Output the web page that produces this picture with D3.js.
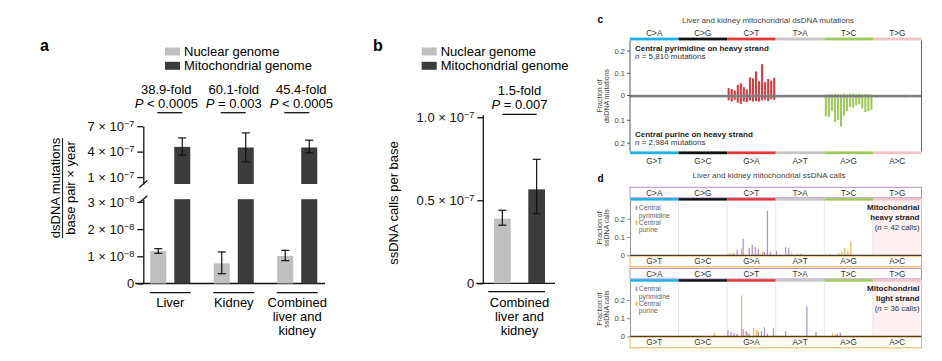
<!DOCTYPE html>
<html lang="en">
<head>
<meta charset="UTF-8">
<title>Mitochondrial vs nuclear mutations</title>
<script src="https://d3js.org/d3.v7.min.js"></script>
<style>
  body { margin: 0; background: #fff; }
  svg { font-family: 'Liberation Sans', Arial, Helvetica, sans-serif; }
</style>
</head>
<body>
<svg width="942" height="361" id="fig"></svg>
<script>
  // ---------- panel a / b data
  const groups = ['Liver', 'Kidney', 'Combined'];
  const groupLabels = [['Liver'], ['Kidney'], ['Combined', 'liver and', 'kidney']];
  const genomes = ['Nuclear genome', 'Mitochondrial genome'];
  const dsNuclear = [1.19e-8, 0.74e-8, 1.01e-8];
  const dsNuclearErr = [[1.11e-8, 1.28e-8], [0.36e-8, 1.16e-8], [0.84e-8, 1.22e-8]];
  const dsMito = [4.56e-7, 4.49e-7, 4.49e-7];
  const dsMitoErr = [[3.59e-7, 5.62e-7], [2.8e-7, 6.21e-7], [3.86e-7, 5.35e-7]];
  const dsFold = ['38.9-fold', '60.1-fold', '45.4-fold'];
  const dsP = [['<', '0.0005'], ['=', '0.003'], ['<', '0.0005']];
  const dsTicksLow = [0, 1e-8, 2e-8, 3e-8];
  const dsTicksHigh = [1e-7, 4e-7, 7e-7];

  const ssValues = [0.39e-7, 0.566e-7];
  const ssErr = [[0.35e-7, 0.44e-7], [0.42e-7, 0.747e-7]];
  const ssFold = '1.5-fold';
  const ssP = ['=', '0.007'];
  const ssTicks = [0, 0.5e-7, 1e-7];

  // ---------- panel c / d data (96 trinucleotide contexts)
  const types = ['C>A', 'C>G', 'C>T', 'T>A', 'T>C', 'T>G'];
  const typesPurine = ['G>T', 'G>C', 'G>A', 'A>T', 'A>G', 'A>C'];
  const flanks = ['A_A', 'A_C', 'A_G', 'A_T', 'C_A', 'C_C', 'C_G', 'C_T',
                  'G_A', 'G_C', 'G_G', 'G_T', 'T_A', 'T_C', 'T_G', 'T_T'];
  const typeColors = ['#1fb0e6', '#111111', '#e0383d', '#c6c6c6', '#9fca5a', '#efc4c4'];

  // fraction of dsDNA mutations, central pyrimidine on heavy strand
  const dsPyr = [
    0, 0, 0, 0, 0, 0, 0, 0, 0, 0, 0, 0, 0, 0, 0, 0,
    0, 0, 0, 0, 0, 0, 0, 0, 0, 0, 0, 0, 0, 0, 0, 0,
    0.031, 0.027, 0.02, 0.046, 0.053, 0.035, 0.025, 0.08, 0.075, 0.106, 0.062, 0.139, 0.058, 0.072, 0.065, 0.078,
    0, 0, 0, 0, 0, 0, 0, 0, 0, 0, 0, 0, 0, 0, 0, 0,
    0.002, 0.004, 0.003, 0.005, 0.004, 0.003, 0.006, 0.004, 0.005, 0.007, 0.004, 0.006, 0.003, 0.005, 0.004, 0.003,
    0, 0, 0, 0, 0, 0, 0, 0, 0, 0, 0.003, 0, 0, 0, 0, 0
  ];
  // central purine on heavy strand
  const dsPur = [
    0, 0, 0, 0, 0, 0, 0, 0, 0, 0, 0, 0, 0, 0, 0, 0,
    0, 0, 0, 0, 0, 0, 0, 0, 0, 0, 0, 0, 0, 0, 0, 0,
    0.015, 0.02, 0.012, 0.025, 0.03, 0.02, 0.022, 0.015, 0.02, 0.018, 0.02, 0.015, 0.012, 0.018, 0.01, 0.012,
    0, 0, 0, 0, 0, 0, 0, 0, 0, 0, 0, 0, 0, 0, 0, 0,
    0.085, 0.088, 0.062, 0.11, 0.1, 0.129, 0.081, 0.062, 0.044, 0.047, 0.037, 0.032, 0.051, 0.066, 0.062, 0.056,
    0, 0, 0, 0, 0, 0, 0, 0, 0, 0, 0.003, 0, 0, 0, 0, 0
  ];

  // ssDNA calls: [context index, fraction]
  const heavyPyr = [[34, 0.01], [35, 0.03], [37, 0.09], [39, 0.04], [40, 0.058], [41, 0.045], [42, 0.035],
                    [44, 0.018], [45, 0.245], [46, 0.02], [48, 0.025], [51, 0.045], [52, 0.04], [53, 0.01],
                    [55, 0.008], [56, 0.008], [76, 0.004]];
  const heavyPur = [[32, 0.01], [33, 0.012], [36, 0.037], [43, 0.02], [65, 0.008], [68, 0.012], [69, 0.02],
                    [70, 0.04], [71, 0.02], [72, 0.075]];
  const lightPyr = [[32, 0.035], [33, 0.025], [34, 0.02], [35, 0.015], [37, 0.04], [38, 0.03], [39, 0.015],
                    [42, 0.025], [43, 0.03], [44, 0.05], [45, 0.015], [47, 0.045], [51, 0.03], [58, 0.165],
                    [61, 0.025], [68, 0.015], [69, 0.02]];
  const lightPur = [[27, 0.02], [36, 0.225], [38, 0.02], [40, 0.045], [41, 0.035], [66, 0.015], [67, 0.01]];

  const contexts = types.flatMap(t => flanks.map(f => t + ' ' + f));

  const svg = d3.select('#fig');
  const nucColor = '#bfbfbf';
  const mitoColor = '#3b3b3b';

  // tick label with superscript exponent
  function sciTicks(g, fmt) {
    g.selectAll('.tick text').each(function (d) {
      const t = d3.select(this).text(null);
      const r = fmt(d);
      if (!r) { t.text('0'); return; }
      t.append('tspan').text(r[0] + ' \u00d7 10');
      t.append('tspan').attr('dy', '-0.45em').attr('font-size', '0.7em').text('\u2212' + r[1]);
    });
  }

  function styleAxis(g) {
    g.selectAll('path, line').attr('stroke', '#111').attr('stroke-width', 1.3);
    g.selectAll('text').attr('font-size', 13).attr('fill', '#111').attr('font-family', null);
  }

  function legend(x, y) {
    genomes.forEach((name, i) => {
      svg.append('rect').attr('x', x).attr('y', y + i * 14.3)
        .attr('width', 15).attr('height', 8).attr('fill', i ? mitoColor : nucColor);
      svg.append('text').attr('x', x + 19).attr('y', y + 8.6 + i * 14.3)
        .attr('font-size', 13).text(name);
    });
  }

  function pText(x, y, p) {
    const t = svg.append('text').attr('x', x).attr('y', y)
      .attr('text-anchor', 'middle').attr('font-size', 13);
    t.append('tspan').attr('font-style', 'italic').text('P');
    t.append('tspan').text(' ' + p[0] + ' ' + p[1]);
  }

  function errBar(x, y0, y1) {
    const e = svg.append('g').attr('stroke', '#111').attr('stroke-width', 1.2);
    e.append('line').attr('x1', x).attr('x2', x).attr('y1', y0).attr('y2', y1);
    e.append('line').attr('x1', x - 4).attr('x2', x + 4).attr('y1', y0).attr('y2', y0);
    e.append('line').attr('x1', x - 4).attr('x2', x + 4).attr('y1', y1).attr('y2', y1);
  }

  function panelLetter(x, y, s, size) {
    svg.append('text').attr('x', x).attr('y', y).attr('font-size', size)
      .attr('font-weight', 'bold').text(s);
  }

  // ====================== panel a
  panelLetter(40, 51, 'a', 16);
  legend(165, 47.5);

  const aAxisX = 143.3;
  const aX = d3.scaleBand().domain(groups).range([138.5, 329]);
  const aInner = d3.scaleBand().domain(genomes).range([0, 40]).paddingInner(1 / 3);
  const aOff = (aX.bandwidth() - 40) / 2;
  const yLow = d3.scaleLinear().domain([0, 3.1e-8]).range([283.5, 199.2]).clamp(true);
  const yHigh = d3.scaleLinear().domain([0.18e-7, 7e-7]).range([184, 126.2]);
  const breakLow = yLow.range()[1];
  const breakHigh = yHigh.range()[0];

  const gLow = svg.append('g').attr('transform', `translate(${aAxisX},0)`)
    .call(d3.axisLeft(yLow).tickValues(dsTicksLow).tickSize(6).tickSizeOuter(0).tickPadding(3));
  sciTicks(gLow, v => v === 0 ? null : [String(Math.round(v / 1e-8)), 8]);
  styleAxis(gLow);
  const gHigh = svg.append('g').attr('transform', `translate(${aAxisX},0)`)
    .call(d3.axisLeft(yHigh).tickValues(dsTicksHigh).tickSize(6).tickSizeOuter(0).tickPadding(3));
  sciTicks(gHigh, v => [String(Math.round(v / 1e-7)), 7]);
  styleAxis(gHigh);

  // axis break marks
  [breakHigh, breakLow].forEach(y => {
    svg.append('line').attr('x1', aAxisX - 4).attr('x2', aAxisX + 4)
      .attr('y1', y + 3.5).attr('y2', y - 3.5).attr('stroke', '#111').attr('stroke-width', 1.3);
  });

  // baseline
  svg.append('line').attr('x1', aAxisX - 8).attr('x2', 325)
    .attr('y1', yLow(0)).attr('y2', yLow(0)).attr('stroke', '#111').attr('stroke-width', 1.3);

  groups.forEach((g, i) => {
    const x0 = aX(g) + aOff;
    const c = aX(g) + aX.bandwidth() / 2;
    const bw = aInner.bandwidth();
    const xn = x0 + aInner(genomes[0]);
    const xm = x0 + aInner(genomes[1]);

    svg.append('rect').attr('x', xn).attr('width', bw)
      .attr('y', yLow(dsNuclear[i])).attr('height', yLow(0) - yLow(dsNuclear[i]))
      .attr('fill', nucColor);
    errBar(xn + bw / 2, yLow(dsNuclearErr[i][0]), yLow(dsNuclearErr[i][1]));

    // mitochondrial bar crosses the axis break
    svg.append('rect').attr('x', xm).attr('width', bw)
      .attr('y', yLow(dsMito[i])).attr('height', yLow(0) - yLow(dsMito[i]))
      .attr('fill', mitoColor);
    svg.append('rect').attr('x', xm).attr('width', bw)
      .attr('y', yHigh(dsMito[i])).attr('height', breakHigh - yHigh(dsMito[i]))
      .attr('fill', mitoColor);
    errBar(xm + bw / 2, yHigh(dsMitoErr[i][0]), yHigh(dsMitoErr[i][1]));

    // significance
    const tx = c + (i - 1) * 4;
    svg.append('text').attr('x', tx).attr('y', 94).attr('text-anchor', 'middle')
      .attr('font-size', 13).text(dsFold[i]);
    pText(tx, 108, dsP[i]);
    svg.append('line').attr('x1', xn + bw / 2 - 1).attr('x2', xm + bw / 2)
      .attr('y1', 112.7).attr('y2', 112.7).attr('stroke', '#111').attr('stroke-width', 1.3);

    // category
    svg.append('line').attr('x1', c - 20.5).attr('x2', c + 20.5)
      .attr('y1', 292.7).attr('y2', 292.7).attr('stroke', '#111').attr('stroke-width', 1.3);
    groupLabels[i].forEach((s, k) => {
      svg.append('text').attr('x', c).attr('y', 306.7 + k * 14.2)
        .attr('text-anchor', 'middle').attr('font-size', 13).text(s);
    });
  });

  // y label as a fraction
  const aLab = svg.append('g').attr('transform', 'translate(0,188) rotate(-90)')
    .attr('font-size', 13).attr('text-anchor', 'middle');
  aLab.append('text').attr('x', 0).attr('y', 59.6).text('dsDNA mutations');
  aLab.append('line').attr('x1', -50).attr('x2', 50).attr('y1', 62.6).attr('y2', 62.6)
    .attr('stroke', '#111').attr('stroke-width', 1);
  aLab.append('text').attr('x', 0).attr('y', 74.5).text('base pair \u00d7 year');

  // ====================== panel b
  panelLetter(373, 51, 'b', 16);
  legend(421.7, 47.5);

  const bAxisX = 483.3;
  const bInner = d3.scaleBand().domain(genomes).range([494, 545]).paddingInner(0.513);
  const yB = d3.scaleLinear().domain([0, 1e-7]).range([283.3, 117.3]);
  const gB = svg.append('g').attr('transform', `translate(${bAxisX},0)`)
    .call(d3.axisLeft(yB).tickValues(ssTicks).tickSize(6).tickSizeOuter(0).tickPadding(3));
  sciTicks(gB, v => v === 0 ? null : [(v / 1e-7).toFixed(1), 7]);
  styleAxis(gB);
  gB.select('.domain').attr('d', `M0,${yB(0)}V${yB(1e-7) - 2}`);
  svg.append('line').attr('x1', bAxisX - 7).attr('x2', 555)
    .attr('y1', yB(0)).attr('y2', yB(0)).attr('stroke', '#111').attr('stroke-width', 1.3);

  genomes.forEach((gname, i) => {
    const x = bInner(gname);
    const bw = bInner.bandwidth();
    svg.append('rect').attr('x', x).attr('width', bw)
      .attr('y', yB(ssValues[i])).attr('height', yB(0) - yB(ssValues[i]))
      .attr('fill', i ? mitoColor : nucColor);
    errBar(x + bw / 2, yB(ssErr[i][0]), yB(ssErr[i][1]));
  });
  const bC = (bInner.range()[0] + bInner.range()[1]) / 2;
  svg.append('text').attr('x', bC).attr('y', 95).attr('text-anchor', 'middle')
    .attr('font-size', 13).text(ssFold);
  pText(bC, 108.5, ssP);
  svg.append('line')
    .attr('x1', bInner(genomes[0]) + bInner.bandwidth() / 2)
    .attr('x2', bInner(genomes[1]) + bInner.bandwidth() / 2)
    .attr('y1', 114.3).attr('y2', 114.3).attr('stroke', '#111').attr('stroke-width', 1.3);
  svg.append('line').attr('x1', 488.3).attr('x2', 545)
    .attr('y1', 291.7).attr('y2', 291.7).attr('stroke', '#111').attr('stroke-width', 1.3);
  groupLabels[2].forEach((s, k) => {
    svg.append('text').attr('x', bC).attr('y', 306.7 + k * 14.2)
      .attr('text-anchor', 'middle').attr('font-size', 13).text(s);
  });
  svg.append('text').attr('transform', 'translate(398,203) rotate(-90)')
    .attr('text-anchor', 'middle').attr('font-size', 13).text('ssDNA calls per base');

  // ====================== panel c
  const cx0 = 630, cx1 = 921.5;
  const xType = d3.scaleBand().domain(types).range([cx0, cx1]);
  const xCtx = d3.scaleBand().domain(contexts).range([cx0, cx1]).paddingInner(0.32).paddingOuter(0.16);
  const yTop = d3.scaleLinear().domain([0, 0.25]).range([95, 39.5]);
  const yBot = d3.scaleLinear().domain([0, 0.25]).range([97, 154]);
  const small = 7.5;
  const typeSize = 8.2;

  panelLetter(597.5, 22.5, 'c', 10);
  svg.append('text').attr('x', 768).attr('y', 22.5).attr('text-anchor', 'middle')
    .attr('font-size', 8).attr('fill', '#444').text('Liver and kidney mitochondrial dsDNA mutations');

  types.forEach((t, i) => {
    const x = xType(t);
    const w = xType.bandwidth();
    svg.append('rect').attr('x', x).attr('y', 37.6).attr('width', w).attr('height', 2.8).attr('fill', typeColors[i]);
    svg.append('rect').attr('x', x).attr('y', 151.4).attr('width', w).attr('height', 2.8).attr('fill', typeColors[i]);
    svg.append('text').attr('x', x + w / 2).attr('y', 35.8).attr('text-anchor', 'middle')
      .attr('font-size', typeSize).attr('fill', '#333').text(t);
    svg.append('text').attr('x', x + w / 2).attr('y', 163.5).attr('text-anchor', 'middle')
      .attr('font-size', typeSize).attr('fill', '#333').text(typesPurine[i]);
  });

  contexts.forEach((ctx, i) => {
    const col = typeColors[Math.floor(i / 16)];
    if (dsPyr[i] > 0) {
      svg.append('rect').attr('x', xCtx(ctx)).attr('width', xCtx.bandwidth())
        .attr('y', yTop(dsPyr[i])).attr('height', yTop(0) - yTop(dsPyr[i])).attr('fill', col);
    }
    if (dsPur[i] > 0) {
      svg.append('rect').attr('x', xCtx(ctx)).attr('width', xCtx.bandwidth())
        .attr('y', yBot(0)).attr('height', yBot(dsPur[i]) - yBot(0)).attr('fill', col);
    }
  });

  // zero band and frame
  svg.append('rect').attr('x', cx0).attr('y', 94.8).attr('width', cx1 - cx0).attr('height', 2.6).attr('fill', '#7d7d7d');
  svg.append('line').attr('x1', cx1).attr('x2', cx1).attr('y1', 40.4).attr('y2', 151.4)
    .attr('stroke', '#555').attr('stroke-width', 0.9);

  const gcTop = svg.append('g').attr('transform', `translate(${cx0},0)`)
    .call(d3.axisLeft(yTop).tickValues([0, 0.1, 0.2]).tickSize(3).tickSizeOuter(0).tickPadding(2)
      .tickFormat(d => d === 0 ? '0' : d3.format('.1f')(d)));
  const gcBot = svg.append('g').attr('transform', `translate(${cx0},0)`)
    .call(d3.axisLeft(yBot).tickValues([0.1, 0.2]).tickSize(3).tickSizeOuter(0).tickPadding(2)
      .tickFormat(d3.format('.1f')));
  [gcTop, gcBot].forEach(g => {
    g.selectAll('path, line').attr('stroke', '#444').attr('stroke-width', 0.9);
    g.selectAll('text').attr('font-size', small).attr('fill', '#444').attr('font-family', null);
  });
  gcTop.select('.domain').attr('d', `M0,40.4V96`);
  gcBot.select('.domain').attr('d', `M0,96V151.4`);

  const cLab = svg.append('g').attr('transform', 'translate(0,96) rotate(-90)')
    .attr('font-size', 7).attr('fill', '#444').attr('text-anchor', 'middle');
  cLab.append('text').attr('y', 602).text('Fraction of');
  cLab.append('text').attr('y', 609).text('dsDNA mutations');

  svg.append('text').attr('x', 635).attr('y', 50.5).attr('font-size', 8)
    .attr('font-weight', 'bold').attr('fill', '#222').text('Central pyrimidine on heavy strand');
  const n1 = svg.append('text').attr('x', 635).attr('y', 58.8).attr('font-size', 8).attr('fill', '#333');
  n1.append('tspan').attr('font-style', 'italic').text('n');
  n1.append('tspan').text(' = 5,810 mutations');
  svg.append('text').attr('x', 635).attr('y', 136.5).attr('font-size', 8)
    .attr('font-weight', 'bold').attr('fill', '#222').text('Central purine on heavy strand');
  const n2 = svg.append('text').attr('x', 635).attr('y', 145.3).attr('font-size', 8).attr('fill', '#333');
  n2.append('tspan').attr('font-style', 'italic').text('n');
  n2.append('tspan').text(' = 2,984 mutations');

  // ====================== panel d
  const pyrColor = '#b58fcb';
  const purColor = '#f0b24a';
  const xSub = d3.scaleBand().domain(['pyr', 'pur']).range([0, xCtx.step()]).paddingInner(0.15).paddingOuter(0.12);

  panelLetter(597.5, 182, 'd', 10);
  svg.append('text').attr('x', 769).attr('y', 177.5).attr('text-anchor', 'middle')
    .attr('font-size', 8).attr('fill', '#444').text('Liver and kidney mitochondrial ssDNA calls');

  function ssPanel(top, pyr, pur, strandName, nCalls) {
    const plotTop = top + 13.3;
    const plotBot = top + 68;
    const y = d3.scaleLinear().domain([0, 0.3]).range([plotBot, plotTop]);

    // T>G region tint
    svg.append('rect').attr('x', xType('T>G')).attr('y', plotTop).attr('width', xType.bandwidth())
      .attr('height', plotBot - plotTop).attr('fill', '#fdf1f1');

    // separators
    types.slice(1).forEach(t => {
      svg.append('line').attr('x1', xType(t)).attr('x2', xType(t)).attr('y1', plotTop).attr('y2', plotBot)
        .attr('stroke', '#e2e2e2').attr('stroke-width', 0.8);
    });
    svg.append('line').attr('x1', cx1).attr('x2', cx1).attr('y1', plotTop).attr('y2', plotBot)
      .attr('stroke', '#bbb').attr('stroke-width', 0.8);

    // label boxes
    svg.append('rect').attr('x', cx0).attr('y', top).attr('width', cx1 - cx0).attr('height', 10.5)
      .attr('fill', 'none').attr('stroke', pyrColor).attr('stroke-width', 1);
    svg.append('rect').attr('x', cx0).attr('y', plotBot + 0.8).attr('width', cx1 - cx0).attr('height', 10.6)
      .attr('fill', 'none').attr('stroke', purColor).attr('stroke-width', 1);

    types.forEach((t, i) => {
      const x = xType(t);
      const w = xType.bandwidth();
      svg.append('rect').attr('x', x).attr('y', top + 10.8).attr('width', w).attr('height', 2.5).attr('fill', typeColors[i]);
      svg.append('text').attr('x', x + w / 2).attr('y', top + 8.6).attr('text-anchor', 'middle')
        .attr('font-size', typeSize).attr('fill', '#333').text(t);
      svg.append('text').attr('x', x + w / 2).attr('y', plotBot + 9).attr('text-anchor', 'middle')
        .attr('font-size', typeSize).attr('fill', '#333').text(typesPurine[i]);
    });

    [[pyr, 'pyr', pyrColor], [pur, 'pur', purColor]].forEach(([rows, key, col]) => {
      rows.forEach(([idx, v]) => {
        svg.append('rect').attr('x', xCtx(contexts[idx]) - xCtx.step() * 0.16 + xSub(key))
          .attr('width', xSub.bandwidth()).attr('y', y(v)).attr('height', y(0) - y(v)).attr('fill', col);
      });
    });

    // baseline
    svg.append('line').attr('x1', cx0).attr('x2', cx1).attr('y1', plotBot).attr('y2', plotBot)
      .attr('stroke', '#4b3c30').attr('stroke-width', 1.3);

    const ga = svg.append('g').attr('transform', `translate(${cx0},0)`)
      .call(d3.axisLeft(y).tickValues([0, 0.1, 0.2]).tickSize(3).tickSizeOuter(0).tickPadding(2)
        .tickFormat(d => d === 0 ? '0' : d3.format('.1f')(d)));
    ga.selectAll('path, line').attr('stroke', '#777').attr('stroke-width', 0.8);
    ga.selectAll('text').attr('font-size', small).attr('fill', '#444').attr('font-family', null);

    const lab = svg.append('g').attr('transform', `translate(0,${(plotTop + plotBot) / 2}) rotate(-90)`)
      .attr('font-size', 7).attr('fill', '#444').attr('text-anchor', 'middle');
    lab.append('text').attr('y', 602).text('Fraction of');
    lab.append('text').attr('y', 609).text('ssDNA calls');

    // legend
    svg.append('rect').attr('x', 635.6).attr('y', top + 18.4).attr('width', 1.7).attr('height', 4.5).attr('fill', pyrColor);
    svg.append('rect').attr('x', 635.6).attr('y', top + 33.2).attr('width', 1.7).attr('height', 4.5).attr('fill', purColor);
    [['Central', 22.7], ['pyrimidine', 30.2], ['Central', 37.7], ['purine', 44.7]].forEach(([s, dy]) => {
      svg.append('text').attr('x', 638.8).attr('y', top + dy).attr('font-size', 6.8).attr('fill', '#666').text(s);
    });

    // strand label
    svg.append('text').attr('x', 919.5).attr('y', top + 22.7).attr('text-anchor', 'end')
      .attr('font-size', 8).attr('font-weight', 'bold').attr('fill', '#222').text('Mitochondrial');
    svg.append('text').attr('x', 919.5).attr('y', top + 32.2).attr('text-anchor', 'end')
      .attr('font-size', 8).attr('font-weight', 'bold').attr('fill', '#222').text(strandName);
    const nt = svg.append('text').attr('x', 919.5).attr('y', top + 42.2).attr('text-anchor', 'end')
      .attr('font-size', 7.8).attr('fill', '#333');
    nt.append('tspan').text('(');
    nt.append('tspan').attr('font-style', 'italic').text('n');
    nt.append('tspan').text(' = ' + nCalls + ' calls)');
  }

  ssPanel(187.3, heavyPyr, heavyPur, 'heavy strand', 42);
  ssPanel(268.4, lightPyr, lightPur, 'light strand', 36);
</script>
</body>
</html>
